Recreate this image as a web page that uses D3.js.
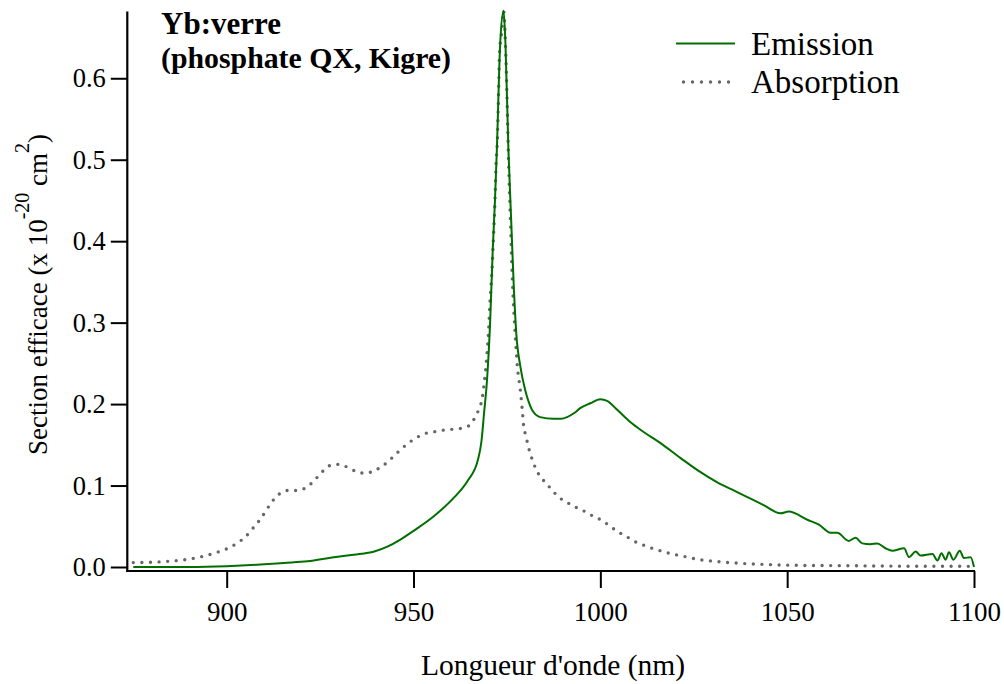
<!DOCTYPE html>
<html>
<head>
<meta charset="utf-8">
<script src="https://cdn.jsdelivr.net/npm/d3@7"></script>
<style>
  html, body { margin: 0; padding: 0; background: #fff; }
  svg text { font-family: "Liberation Serif", "DejaVu Serif", serif; }
</style>
</head>
<body>
<svg id="chart" width="1004" height="684"></svg>
<script>
// ---- Data ----
const absWavelength = [875, 879.6, 884.3, 888.9, 893.6, 898.0, 900.3, 902.7, 905.0, 907.1, 908.9, 910.5, 912.1, 914.2, 916.5, 918.7, 921.1, 923.4, 925.6, 927.9, 930.2, 932.5, 934.8, 937.0, 939.4, 941.7, 944.0, 946.3, 948.6, 950.9, 953.2, 955.5, 957.9, 960.3, 962.5, 964.7, 966.5, 967.6, 968.3, 968.9, 969.6, 970.1, 970.5, 971.0, 971.4, 971.8, 972.1, 972.4, 972.8, 973.0, 973.7, 974.1, 974.6, 975.0, 975.4, 975.9, 976.5, 977.2, 977.8, 978.6, 979.1, 979.5, 980.1, 980.6, 981.2, 982.0, 983.0, 984.5, 986.6, 988.8, 991.2, 993.6, 995.9, 998.2, 1000.5, 1002.9, 1005.2, 1007.5, 1009.8, 1012.1, 1014.5, 1016.8, 1019.1, 1021.4, 1025.9, 1030.5, 1037.5, 1044.7, 1053.6, 1065.2, 1075, 1100];
const absValues = [0.0054, 0.0058, 0.007, 0.009, 0.013, 0.019, 0.023, 0.029, 0.037, 0.048, 0.058, 0.069, 0.080, 0.090, 0.094, 0.094, 0.097, 0.106, 0.117, 0.125, 0.126, 0.122, 0.117, 0.115, 0.118, 0.124, 0.133, 0.143, 0.152, 0.159, 0.164, 0.166, 0.168, 0.169, 0.170, 0.173, 0.184, 0.195, 0.205, 0.225, 0.258, 0.291, 0.328, 0.364, 0.405, 0.450, 0.496, 0.52, 0.59, 0.629, 0.661, 0.683, 0.643, 0.58, 0.504, 0.430, 0.348, 0.287, 0.246, 0.217, 0.193, 0.172, 0.161, 0.150, 0.140, 0.129, 0.118, 0.108, 0.097, 0.086, 0.079, 0.073, 0.068, 0.062, 0.057, 0.049, 0.042, 0.036, 0.030, 0.026, 0.022, 0.019, 0.016, 0.014, 0.0095, 0.007, 0.0045, 0.003, 0.002, 0.0016, 0.0012, 0.0008];

const emWavelength = [875, 890, 900, 909, 915.3, 921.6, 928.7, 934, 939.5, 943, 946.6, 950.2, 955.6, 961, 964.5, 967.2, 968.2, 968.9, 969.6, 970.5, 971.2, 971.8, 972.3, 973.2, 974.1, 974.6, 975.4, 976.1, 976.8, 977.5, 978.6, 979.9, 980.8, 981.7, 983.9, 987.5, 989.5, 991.1, 993, 994.6, 997.3, 1000, 1001.8, 1004.5, 1008, 1011.2, 1016.1, 1021.4, 1026.3, 1031.3, 1035.7, 1040.2, 1043.7, 1048.2, 1050.4, 1055.4, 1058.5, 1061.6, 1063.4, 1066.5, 1068.3, 1070.1, 1072.3, 1074.1, 1076.3, 1078.1, 1081.3, 1082.6, 1084.4, 1085.7, 1088.9, 1090.2, 1091.3, 1092.4, 1093.3, 1094.5, 1096.2, 1097.3, 1099.1, 1100];
const emValues = [0.000, 0.000, 0.001, 0.003, 0.005, 0.007, 0.012, 0.015, 0.019, 0.025, 0.034, 0.045, 0.063, 0.086, 0.106, 0.131, 0.155, 0.19, 0.225, 0.300, 0.389, 0.450, 0.512, 0.643, 0.683, 0.643, 0.512, 0.430, 0.348, 0.287, 0.246, 0.217, 0.203, 0.193, 0.184, 0.182, 0.182, 0.184, 0.189, 0.195, 0.201, 0.206, 0.204, 0.193, 0.178, 0.167, 0.152, 0.134, 0.118, 0.104, 0.094, 0.084, 0.076, 0.066, 0.068, 0.058, 0.052, 0.042, 0.042, 0.032, 0.036, 0.029, 0.028, 0.029, 0.023, 0.020, 0.023, 0.012, 0.019, 0.014, 0.016, 0.008, 0.017, 0.009, 0.018, 0.009, 0.020, 0.011, 0.012, 0.000];

const xTicks = [900, 950, 1000, 1050, 1100];
const yTicks = [0.0, 0.1, 0.2, 0.3, 0.4, 0.5, 0.6];
const seriesNames = ["Emission", "Absorption"];
const titleLines = ["Yb:verre", "(phosphate QX, Kigre)"];

// ---- Layout ----
const FONT = "'Liberation Serif', 'DejaVu Serif', serif";
const svg = d3.select("#chart").attr("font-family", FONT);
const GREEN = "#006f00";
const GREY = "#666666";

const x = d3.scaleLinear().domain([873.4, 1100]).range([127.3, 974]);
const y = d3.scaleLinear().domain([0, 0.68]).range([567, 13.1]);
const xAxisY = 571;

// Axes
const yAxis = svg.append("g")
  .attr("transform", `translate(${x.range()[0]},0)`)
  .call(d3.axisLeft(y).tickValues(yTicks).tickFormat(d3.format(".1f")).tickSize(16.5).tickPadding(5).tickSizeOuter(0));
yAxis.attr("font-family", FONT);
yAxis.select(".domain").remove();
yAxis.selectAll(".tick line").attr("stroke", "#000").attr("stroke-width", 2);
yAxis.selectAll(".tick text").attr("font-size", 26.5).attr("fill", "#000").attr("font-family", FONT);

const xAxis = svg.append("g")
  .attr("transform", `translate(0,${xAxisY})`)
  .call(d3.axisBottom(x).tickValues(xTicks).tickFormat(d3.format("d")).tickSize(17).tickPadding(14).tickSizeOuter(0));
xAxis.attr("font-family", FONT);
xAxis.select(".domain").remove();
xAxis.selectAll(".tick line").attr("stroke", "#000").attr("stroke-width", 2);
xAxis.selectAll(".tick text").attr("font-size", 27).attr("fill", "#000").attr("font-family", FONT);

// axis lines
svg.append("line")
  .attr("x1", x.range()[0]).attr("x2", x.range()[0])
  .attr("y1", y.range()[1] - 1.5).attr("y2", xAxisY + 1)
  .attr("stroke", "#000").attr("stroke-width", 2.2);
svg.append("line")
  .attr("x1", x.range()[0] - 1).attr("x2", x.range()[1] + 1)
  .attr("y1", xAxisY).attr("y2", xAxisY)
  .attr("stroke", "#000").attr("stroke-width", 2.2);

// Lines
const line = d3.line().x(d => x(d[0])).y(d => y(d[1])).curve(d3.curveMonotoneX);
const absData = absWavelength.map((w, i) => [w, absValues[i]]);
const emData = emWavelength.map((w, i) => [w, emValues[i]]);

svg.append("path").datum(absData)
  .attr("d", line)
  .attr("fill", "none")
  .attr("stroke", GREY)
  .attr("stroke-width", 3.4)
  .attr("stroke-linecap", "round")
  .attr("stroke-dasharray", "0 8.6");

svg.append("path").datum(emData)
  .attr("d", line)
  .attr("fill", "none")
  .attr("stroke", GREEN)
  .attr("stroke-width", 2)
  .attr("stroke-linejoin", "round");

// Axis titles
svg.append("text")
  .attr("x", 553).attr("y", 675)
  .attr("text-anchor", "middle")
  .attr("font-size", 29.5)
  .text("Longueur d'onde (nm)");

const yLabel = svg.append("text")
  .attr("transform", "translate(47,455) rotate(-90)")
  .attr("font-size", 27);
yLabel.append("tspan").text("Section efficace (x 10");
yLabel.append("tspan").attr("dy", -18).attr("font-size", 20).text("-20");
yLabel.append("tspan").attr("dy", 18).text(" cm");
yLabel.append("tspan").attr("dy", -18).attr("font-size", 20).text("2");
yLabel.append("tspan").attr("dy", 18).text(")");

// Title
svg.append("text").attr("x", 161).attr("y", 34)
  .attr("font-size", 31).attr("font-weight", "bold").text(titleLines[0]);
svg.append("text").attr("x", 161).attr("y", 68)
  .attr("font-size", 29.8).attr("font-weight", "bold").text(titleLines[1]);

// Legend
const legend = svg.append("g");
legend.append("line").attr("x1", 676).attr("x2", 735).attr("y1", 43.5).attr("y2", 43.5)
  .attr("stroke", GREEN).attr("stroke-width", 2);
legend.append("text").attr("x", 751).attr("y", 55).attr("font-size", 33).text(seriesNames[0]);
legend.append("line").attr("x1", 683.5).attr("x2", 729).attr("y1", 82).attr("y2", 82)
  .attr("stroke", GREY).attr("stroke-width", 3.4).attr("stroke-linecap", "round")
  .attr("stroke-dasharray", "0 9");
legend.append("text").attr("x", 751).attr("y", 93).attr("font-size", 33).text(seriesNames[1]);
</script>
</body>
</html>
